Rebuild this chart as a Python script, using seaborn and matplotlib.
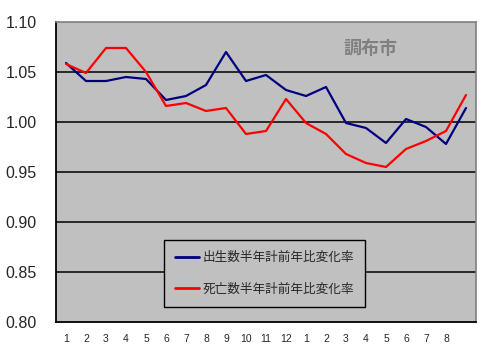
import matplotlib
matplotlib.use("Agg")
import matplotlib.pyplot as plt
import seaborn as sns
import pandas as pd

months = ["1", "2", "3", "4", "5", "6", "7", "8", "9", "10", "11", "12",
          "1", "2", "3", "4", "5", "6", "7", "8", ""]
births = [1.059, 1.041, 1.041, 1.045, 1.043, 1.022, 1.026, 1.037, 1.070, 1.041, 1.047,
          1.032, 1.026, 1.035, 0.999, 0.994, 0.979, 1.003, 0.995, 0.978, 1.014]
deaths = [1.058, 1.049, 1.074, 1.074, 1.050, 1.016, 1.019, 1.011, 1.014, 0.988, 0.991,
          1.023, 0.999, 0.988, 0.968, 0.959, 0.955, 0.973, 0.981, 0.991, 1.027]
series_names = ["出生数半年計前年比変化率", "死亡数半年計前年比変化率"]

df = pd.DataFrame({
    "pos": list(range(len(months))) * 2,
    "value": births + deaths,
    "series": [series_names[0]] * len(births) + [series_names[1]] * len(deaths),
})

sns.set_style("white")
plt.rcParams["font.family"] = ["Liberation Sans", "Noto Sans CJK JP", "DejaVu Sans"]

fig = plt.figure(figsize=(4.9, 3.57), dpi=100)
ax = fig.add_axes([56 / 490, 35 / 357, 420 / 490, 300 / 357])
ax.set_facecolor("#c0c0c0")

for y in [0.85, 0.90, 0.95, 1.00, 1.05]:
    ax.axhline(y, color="black", lw=1.1, zorder=1)

sns.lineplot(data=df, x="pos", y="value", hue="series",
             palette=["#000080", "#ff0000"], linewidth=1.6, ax=ax, zorder=3)

ax.set_xlim(-0.5, len(months) - 0.5)
ax.set_ylim(0.80, 1.10)
ax.set_yticks([0.80, 0.85, 0.90, 0.95, 1.00, 1.05, 1.10])
ax.set_yticklabels([f"{v:.2f}" for v in [0.80, 0.85, 0.90, 0.95, 1.00, 1.05, 1.10]],
                   fontsize=11.5)
ax.tick_params(axis="y", length=0, pad=14)
ax.set_xticks(range(len(months)))
ax.set_xticklabels(months, fontsize=7.5)
ax.set_xticks([i - 0.5 for i in range(len(months) + 1)], minor=True)
ax.tick_params(axis="x", which="major", length=0, pad=9)
ax.tick_params(axis="x", which="minor", direction="in", length=3, width=0.8, color="black")
ax.set_xlabel("")
ax.set_ylabel("")

for side in ["top", "right"]:
    ax.spines[side].set_color("#808080")
    ax.spines[side].set_linewidth(1.2)
for side in ["left", "bottom"]:
    ax.spines[side].set_color("black")
    ax.spines[side].set_linewidth(1.3)

ax.text(0.748, 0.913, "調布市", transform=ax.transAxes, ha="center", va="center",
        fontsize=13, color="#808080", fontweight="bold", family="Noto Sans CJK JP")

leg = ax.legend(loc="lower left", bbox_to_anchor=(0.257, 0.05), frameon=True,
                fancybox=False, edgecolor="black", facecolor="#c0c0c0", framealpha=1,
                prop={"family": "Noto Sans CJK JP", "size": 9.1}, handlelength=1.9,
                labelspacing=1.45, borderpad=0.9, handletextpad=0.25, borderaxespad=0)
leg.get_frame().set_linewidth(1.0)
for line in leg.get_lines():
    line.set_linewidth(2)

fig.savefig("out.png", dpi=100)
